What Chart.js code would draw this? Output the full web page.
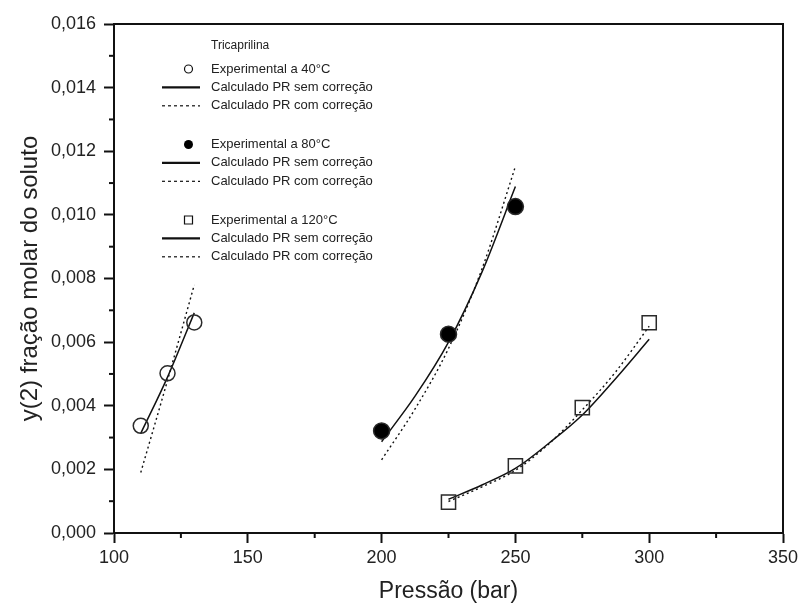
<!DOCTYPE html>
<html>
<head>
<meta charset="utf-8">
<script src="https://cdn.jsdelivr.net/npm/chart.js@4.4.1/dist/chart.umd.min.js"></script>
<style>
  html, body { margin: 0; padding: 0; background: #fff; }
</style>
</head>
<body>
<canvas id="myChart" width="803" height="608"></canvas>
<script>
// values
const exp40Pressure = [110, 120, 130]
const exp40Fraction = [0.00337, 0.00502, 0.00662]
const calc40Pressure = [110, 120, 130]
const sem40Fraction = [0.00313, 0.0049, 0.00692]
const com40Fraction = [0.0019, 0.0048, 0.0078]

const exp80Pressure = [200, 225, 250]
const exp80Fraction = [0.00321, 0.00625, 0.01026]
const calc80Pressure = [200, 212.5, 225, 237.5, 250]
const sem80Fraction = [0.00287, 0.0043, 0.0060, 0.0082, 0.01089]
const com80Fraction = [0.0023, 0.0039, 0.0058, 0.0083, 0.01152]

const exp120Pressure = [225, 250, 275, 300]
const exp120Fraction = [0.00097, 0.00211, 0.00394, 0.00661]
const calc120Pressure = [225, 237.5, 250, 262.5, 275, 287.5, 300]
const sem120Fraction = [0.00106, 0.00151, 0.00203, 0.00282, 0.00371, 0.00486, 0.00609]
const com120Fraction = [0.00099, 0.00145, 0.00197, 0.0028, 0.00387, 0.00507, 0.0065]

const xTicks = [100, 150, 200, 250, 300, 350]
const xMinorTicks = [125, 175, 225, 275, 325]
const yTicks = [0, 0.002, 0.004, 0.006, 0.008, 0.010, 0.012, 0.014, 0.016]
const yMinorTicks = [0.001, 0.003, 0.005, 0.007, 0.009, 0.011, 0.013, 0.015]

const legendTitle = 'Tricaprilina'
const FONT = '"Liberation Sans", Arial, sans-serif'

const pts = (xs, ys) => xs.map((x, i) => ({x: x, y: ys[i]}))

const expSet = (label, xs, ys, style, radius, fill) => ({
    label: label,
    data: pts(xs, ys),
    showLine: false,
    pointStyle: style,
    pointRadius: radius,
    pointHoverRadius: radius,
    pointBorderColor: '#2a2a2a',
    pointBorderWidth: 1.5,
    pointBackgroundColor: fill
})
const calcSet = (label, xs, ys, dash) => ({
    label: label,
    data: pts(xs, ys),
    showLine: true,
    pointRadius: 0,
    borderColor: '#111',
    borderWidth: dash ? 1.4 : 1.5,
    borderDash: dash ? [2, 3] : [],
    cubicInterpolationMode: 'monotone',
    fill: false
})

const data = {
    datasets: [
        expSet('Experimental a 40°C', exp40Pressure, exp40Fraction, 'circle', 7.5, 'rgba(0,0,0,0)'),
        calcSet('Calculado PR sem correção', calc40Pressure, sem40Fraction, false),
        calcSet('Calculado PR com correção', calc40Pressure, com40Fraction, true),
        expSet('Experimental a 80°C', exp80Pressure, exp80Fraction, 'circle', 8, '#000'),
        calcSet('Calculado PR sem correção', calc80Pressure, sem80Fraction, false),
        calcSet('Calculado PR com correção', calc80Pressure, com80Fraction, true),
        expSet('Experimental a 120°C', exp120Pressure, exp120Fraction, 'rect', 10, 'rgba(0,0,0,0)'),
        calcSet('Calculado PR sem correção', calc120Pressure, sem120Fraction, false),
        calcSet('Calculado PR com correção', calc120Pressure, com120Fraction, true)
    ]
}

// box round the plot + minor ticks
const framePlugin = {
    id: 'frame',
    afterDraw(chart) {
        const c = chart.ctx
        const a = chart.chartArea
        const sx = chart.scales.x, sy = chart.scales.y
        c.save()
        c.strokeStyle = '#111'
        c.lineWidth = 2
        c.strokeRect(a.left, a.top, a.right - a.left, a.bottom - a.top)
        xMinorTicks.forEach(v => {
            const px = sx.getPixelForValue(v)
            c.beginPath(); c.moveTo(px, a.bottom); c.lineTo(px, a.bottom + 5); c.stroke()
        })
        yMinorTicks.forEach(v => {
            const py = sy.getPixelForValue(v)
            c.beginPath(); c.moveTo(a.left, py); c.lineTo(a.left - 5, py); c.stroke()
        })
        c.restore()
    }
}

// legend in three groups inside the plot
const legendPlugin = {
    id: 'groupLegend',
    afterDraw(chart) {
        const c = chart.ctx
        c.save()
        c.fillStyle = '#222'
        c.textBaseline = 'middle'
        c.textAlign = 'left'
        c.font = '12px ' + FONT
        c.fillText(legendTitle, 211, 46)
        c.font = '13px ' + FONT
        chart.data.datasets.forEach((ds, i) => {
            const y = 69 + Math.floor(i / 3) * 75.5 + (i % 3) * 18.4
            c.strokeStyle = '#111'
            if (ds.showLine) {
                c.lineWidth = ds.borderDash.length ? 1.2 : 2.4
                c.setLineDash(ds.borderDash.length ? [3, 3] : [])
                c.beginPath(); c.moveTo(162, y); c.lineTo(200, y); c.stroke()
                c.setLineDash([])
            } else {
                c.lineWidth = 1.2
                c.beginPath()
                if (ds.pointStyle === 'rect') {
                    c.rect(184.5, y - 4, 8, 8)
                    c.stroke()
                } else {
                    c.arc(188.5, y, ds.pointBackgroundColor === '#000' ? 4.5 : 4, 0, Math.PI * 2)
                    if (ds.pointBackgroundColor === '#000') { c.fillStyle = '#000'; c.fill(); c.fillStyle = '#222' }
                    else c.stroke()
                }
            }
            c.fillText(ds.label, 211, y)
        })
        c.restore()
    }
}

const config = {
    type: 'scatter',
    data: data,
    options: {
        responsive: false,
        animation: false,
        devicePixelRatio: 1,
        layout: { padding: { top: 24, right: 20, left: 0, bottom: 0 } },
        plugins: {
            legend: { display: false },
            tooltip: { enabled: false }
        },
        scales: {
            x: {
                type: 'linear',
                min: 100,
                max: 350,
                afterBuildTicks: s => { s.ticks = xTicks.map(v => ({value: v})) },
                afterFit: s => { s.height = 75 },
                ticks: { color: '#222', font: { family: FONT, size: 18 }, padding: 4, maxRotation: 0 },
                grid: { drawOnChartArea: false, tickLength: 10, tickColor: '#111', tickWidth: 2 },
                border: { color: '#111', width: 2 },
                title: { display: true, text: 'Pressão (bar)', color: '#222', font: { family: FONT, size: 23 }, padding: { bottom: 3, top: 0 } }
            },
            y: {
                type: 'linear',
                min: 0,
                max: 0.016,
                afterBuildTicks: s => { s.ticks = yTicks.map(v => ({value: v})) },
                afterFit: s => { s.width = 114 },
                ticks: { color: '#222', font: { family: FONT, size: 18 }, padding: 8,
                    callback: v => v.toFixed(3).replace('.', ',') },
                grid: { drawOnChartArea: false, tickLength: 10, tickColor: '#111', tickWidth: 2 },
                border: { color: '#111', width: 2 },
                title: { display: true, text: 'y(2) fração molar do soluto', color: '#222', font: { family: FONT, size: 24 }, padding: { top: 16, bottom: 0 } }
            }
        }
    },
    plugins: [framePlugin, legendPlugin]
}

const chart = new Chart(document.getElementById('myChart'), config)
</script>
</body>
</html>
